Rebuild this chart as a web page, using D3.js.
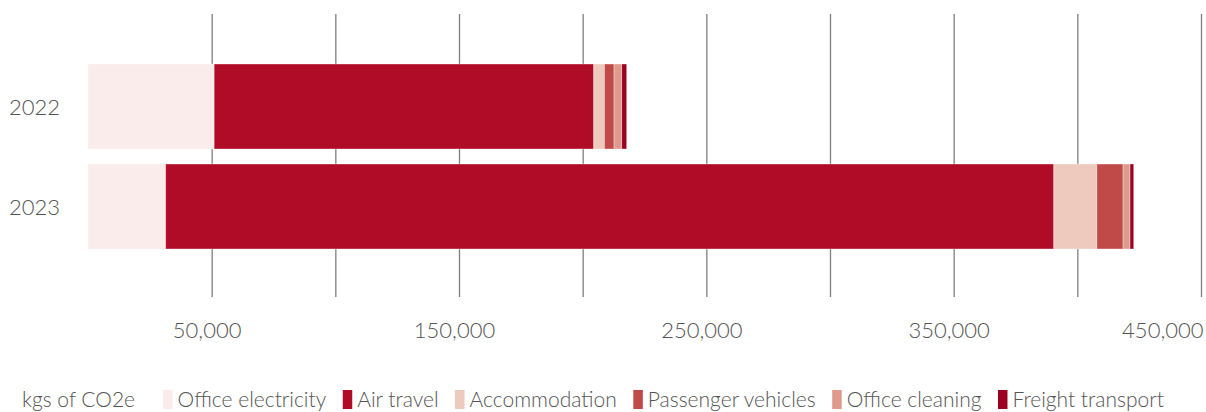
<!DOCTYPE html>
<html>
<head>
<meta charset="utf-8">
<script src="https://cdn.jsdelivr.net/npm/d3@7"></script>
<style>
  html, body { margin: 0; padding: 0; background: #fff; }
  svg { display: block; }
  text { font-family: Lato, "Open Sans", sans-serif; font-weight: 300; fill: #545454; }
</style>
</head>
<body>
<svg id="chart" width="1206" height="412"></svg>
<script>
// Emissions by source, kgs of CO2e
const years = ["2022", "2023"];
const sources = ["Office electricity", "Air travel", "Accommodation", "Passenger vehicles", "Office cleaning", "Freight transport"];
const colors = ["#f9ecea", "#b00c28", "#edc9be", "#c04a47", "#de9a8b", "#9b0020"];
const values2022 = [51000, 153500, 4300, 3900, 3100, 2000];
const values2023 = [31400, 359100, 17400, 10600, 2800, 1500];
const gridTicks = [50000, 100000, 150000, 200000, 250000, 300000, 350000, 400000, 450000];
const labelTicks = [50000, 150000, 250000, 350000, 450000];
const unitLabel = "kgs of CO2e";

const W = 1206, H = 412;
const svg = d3.select("#chart");
const textColor = "#545454";

const rows = years.map((y, i) => {
  const vals = i === 0 ? values2022 : values2023;
  const r = { year: y };
  sources.forEach((s, j) => r[s] = vals[j]);
  return r;
});

const x = d3.scaleLinear().domain([0, 450000]).range([88, 1201]);
const y = d3.scaleBand().domain(years).range([14, 299]).paddingInner(0.15).paddingOuter(0.5);
const color = d3.scaleOrdinal().domain(sources).range(colors);

const gridTop = 14, gridBottom = 297;

// vertical gridlines
const grid = svg.append("g")
  .attr("transform", `translate(0,${gridBottom})`)
  .call(d3.axisBottom(x).tickValues(gridTicks).tickSize(-(gridBottom - gridTop)).tickFormat(""));
grid.select(".domain").remove();
grid.selectAll("line").attr("stroke", "#7f7f7f").attr("stroke-width", 1.3);

// stacked bars
const stack = d3.stack().keys(sources)(rows);
svg.append("g").selectAll("g")
  .data(stack).join("g")
  .attr("fill", d => color(d.key))
  .selectAll("rect")
  .data(d => d).join("rect")
  .attr("x", d => x(d[0]))
  .attr("width", d => x(d[1]) - x(d[0]))
  .attr("y", d => y(d.data.year))
  .attr("height", y.bandwidth())
  .attr("stroke", "rgba(255,255,255,0.45)")
  .attr("stroke-width", 0.8);

// year labels
const yAxis = svg.append("g")
  .attr("transform", "translate(60,0)")
  .call(d3.axisLeft(y).tickSize(0).tickPadding(0));
yAxis.select(".domain").remove();
yAxis.selectAll("text").attr("font-size", 22).attr("dy", "0.4em")
  .style("font-family", "Lato, sans-serif").style("font-weight", 300).attr("fill", textColor);

// value labels
const xAxis = svg.append("g")
  .attr("transform", "translate(0,318)")
  .call(d3.axisBottom(x).tickValues(labelTicks).tickSize(0).tickPadding(0).tickFormat(d3.format(",")));
xAxis.select(".domain").remove();
xAxis.selectAll("text").attr("font-size", 22).attr("dy", "0.9em").attr("dx", -5)
  .style("font-family", "Lato, sans-serif").style("font-weight", 300).attr("fill", textColor);
// keep the last label inside the frame
xAxis.selectAll(".tick").each(function(d) {
  const t = d3.select(this).select("text");
  const w = t.node().getComputedTextLength();
  const right = x(d) - 5 + w / 2;
  if (right > W - 3) t.attr("dx", -5 - (right - (W - 3)));
});

// legend
const legend = svg.append("g").attr("transform", "translate(0,407)");
const unit = legend.append("text").attr("x", 22).attr("font-size", 21).text(unitLabel);
let cx = 22 + unit.node().getComputedTextLength() + 28;
sources.forEach(s => {
  legend.append("rect").attr("x", cx).attr("y", -17).attr("width", 9.5).attr("height", 19).attr("fill", color(s));
  const t = legend.append("text").attr("x", cx + 14.5).attr("font-size", 21).text(s);
  cx += 14.5 + t.node().getComputedTextLength() + 16.5;
});
</script>
</body>
</html>
